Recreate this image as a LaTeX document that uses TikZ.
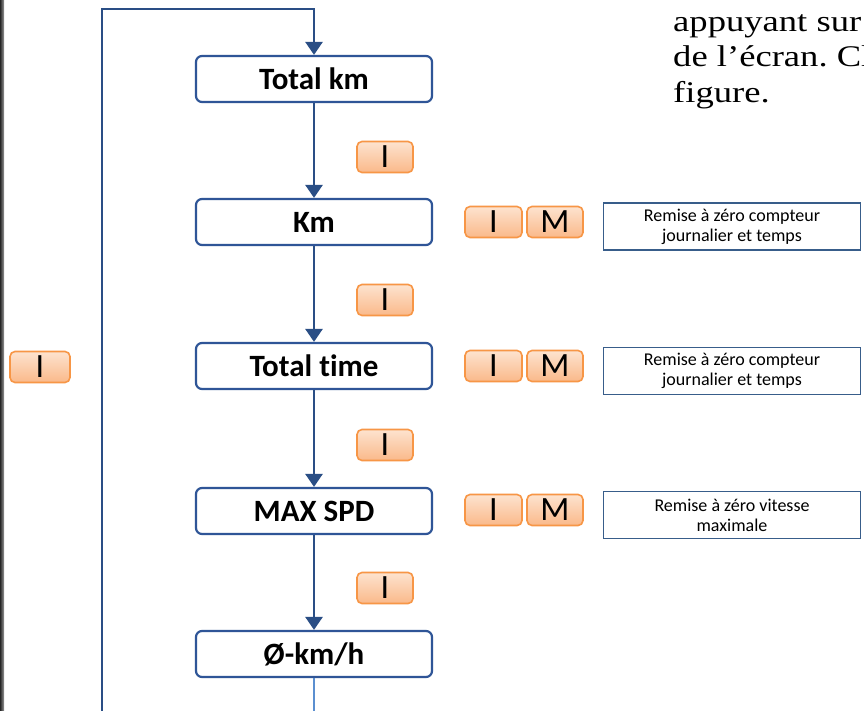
\documentclass[tikz,border=0pt]{standalone}
\usepackage{fontspec}
\setmainfont[Ligatures=NoCommon]{Carlito}
\newfontfamily\serifgar{Liberation Serif}
\usetikzlibrary{arrows.meta}
\definecolor{boxblue}{HTML}{2F5597}
\definecolor{linblue}{HTML}{2A4E85}
\definecolor{lightblue}{HTML}{5B8FD0}
\definecolor{keyedge}{HTML}{F79646}
\definecolor{keytop}{HTML}{FDE3CF}
\definecolor{keybot}{HTML}{FAB98A}
\definecolor{descedge}{HTML}{385D8A}
\tikzset{
  mainbox/.style={draw=boxblue, line width=2.2pt, rounded corners=6pt, fill=white,
    minimum width=236pt, minimum height=46pt, font=\fontsize{31}{32}\selectfont\bfseries, inner sep=0pt},
  keybox/.style={draw=keyedge, line width=1.6pt, rounded corners=5pt, top color=keytop, bottom color=keybot,
    minimum width=56pt, minimum height=31pt, font=\fontsize{34}{34}\selectfont, inner sep=0pt},
  descbox/.style={draw=descedge, line width=1.8pt, fill=white, minimum width=257pt, minimum height=47pt,
    align=center, font=\fontsize{18}{20}\selectfont, inner sep=0pt},
  flow/.style={draw=linblue, line width=2.6pt, -{Triangle[width=17pt,length=13pt]}},
  sertext/.style={anchor=base west, inner sep=0pt, font=\serifgar\fontsize{30}{36}\selectfont},
}
\begin{document}
\frenchspacing
\begin{tikzpicture}[x=1pt,y=-1pt]
\useasboundingbox (0,0) rectangle (864,711);
\fill[white] (0,0) rectangle (864,711);
\shade[left color=black!85, right color=black!40] (0,0) rectangle (4,711);
% top-right text
\node[sertext] (t1) at (673,32) {\scalebox{1.22}[1]{appuyant sur}};
\node[sertext] (t2) at (673,67) {\scalebox{1.22}[1]{de l’écran. Cl}};
\node[sertext] (t3) at (673,103) {\scalebox{1.22}[1]{figure.}};
% main boxes
\node[mainbox] (tk) at (314,79) {Total km};
\node[mainbox] (km) at (314,222) {Km};
\node[mainbox] (tt) at (314,366) {Total time};
\node[mainbox] (ms) at (314,511) {MAX SPD};
\node[mainbox] (av) at (314,654) {Ø-km/h};
% keys between
\node[keybox] (k1) at (385,157) {I};
\node[keybox] (k2) at (385,300) {I};
\node[keybox] (k3) at (385,445) {I};
\node[keybox] (k4) at (385,588) {I};
\node[keybox, minimum width=60pt] (kl) at (40,367) {I};
% I M keys
\node[keybox, minimum width=57pt] (i1) at (493.5,222) {I};
\node[keybox] (m1) at (555,222) {M};
\node[keybox, minimum width=57pt] (i2) at (493.5,366) {I};
\node[keybox] (m2) at (555,366) {M};
\node[keybox, minimum width=57pt] (i3) at (493.5,510) {I};
\node[keybox] (m3) at (555,510) {M};
% descriptions
\node[descbox] (d1) at (732,226.5) {Remise à zéro compteur\\journalier et temps};
\node[descbox] (d2) at (732,371) {Remise à zéro compteur\\journalier et temps};
\node[descbox] (d3) at (732,515) {Remise à zéro vitesse\\maximale};
% connectors
\draw[flow] (tk) -- (km);
\draw[flow] (km) -- (tt);
\draw[flow] (tt) -- (ms);
\draw[flow] (ms) -- (av);
\coordinate (bot) at (314,712);
\coordinate (lb) at (102,712);
\coordinate (lt) at (102,9);
\coordinate (rt) at (314,9);
\draw[draw=lightblue, line width=2pt] (av) -- (bot);
\draw[flow] (lb) -- (lt) -- (rt) -- (tk);
\end{tikzpicture}
\end{document}
